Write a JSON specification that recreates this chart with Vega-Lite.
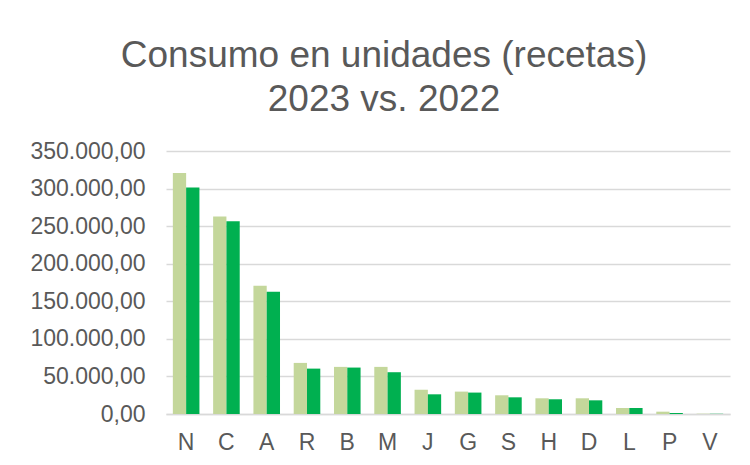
{
  "$schema": "https://vega.github.io/schema/vega-lite/v6.json",
  "autosize": {"type": "none"},
  "padding": {"left": 166, "top": 151, "right": 20, "bottom": 51},
  "width": 564,
  "height": 263,
  "background": "white",
  "config": {
    "locale": {"number": {"decimal": ",", "thousands": ".", "grouping": [3], "currency": ["", " €"]}},
    "view": {"stroke": null},
    "font": "Liberation Sans"
  },
  "title": {
    "text": ["Consumo en unidades (recetas)", "2023 vs. 2022"],
    "font": "Liberation Sans",
    "fontSize": 37,
    "fontWeight": "normal",
    "color": "#595959",
    "anchor": "middle",
    "dx": -64,
    "lineHeight": 44,
    "baseline": "bottom",
    "offset": -16
  },
  "data": {
    "values": [
      {"cat": "N", "serie": "2022", "valor": 320600},
      {"cat": "N", "serie": "2023", "valor": 301500},
      {"cat": "C", "serie": "2022", "valor": 262800},
      {"cat": "C", "serie": "2023", "valor": 256500},
      {"cat": "A", "serie": "2022", "valor": 170800},
      {"cat": "A", "serie": "2023", "valor": 162700},
      {"cat": "R", "serie": "2022", "valor": 68000},
      {"cat": "R", "serie": "2023", "valor": 60400},
      {"cat": "B", "serie": "2022", "valor": 62700},
      {"cat": "B", "serie": "2023", "valor": 61800},
      {"cat": "M", "serie": "2022", "valor": 62700},
      {"cat": "M", "serie": "2023", "valor": 55600},
      {"cat": "J", "serie": "2022", "valor": 32400},
      {"cat": "J", "serie": "2023", "valor": 26200},
      {"cat": "G", "serie": "2022", "valor": 29800},
      {"cat": "G", "serie": "2023", "valor": 28500},
      {"cat": "S", "serie": "2022", "valor": 24900},
      {"cat": "S", "serie": "2023", "valor": 22200},
      {"cat": "H", "serie": "2022", "valor": 20900},
      {"cat": "H", "serie": "2023", "valor": 19600},
      {"cat": "D", "serie": "2022", "valor": 20900},
      {"cat": "D", "serie": "2023", "valor": 18200},
      {"cat": "L", "serie": "2022", "valor": 8000},
      {"cat": "L", "serie": "2023", "valor": 8000},
      {"cat": "P", "serie": "2022", "valor": 3100},
      {"cat": "P", "serie": "2023", "valor": 1300},
      {"cat": "V", "serie": "2022", "valor": 400},
      {"cat": "V", "serie": "2023", "valor": 300}
    ]
  },
  "mark": {"type": "bar"},
  "encoding": {
    "x": {
      "field": "cat",
      "type": "nominal",
      "sort": null,
      "scale": {"paddingInner": 0.34, "paddingOuter": 0.17},
      "axis": {
        "title": null,
        "labelAngle": 0,
        "labelFont": "Liberation Sans",
        "labelFontSize": 23,
        "labelColor": "#595959",
        "labelPadding": 17,
        "ticks": false,
        "domainColor": "#d9d9d9",
        "domainWidth": 1.5
      }
    },
    "xOffset": {"field": "serie", "type": "nominal", "sort": ["2022", "2023"]},
    "y": {
      "field": "valor",
      "type": "quantitative",
      "scale": {"domain": [0, 350000], "nice": false},
      "axis": {
        "title": null,
        "values": [0, 50000, 100000, 150000, 200000, 250000, 300000, 350000],
        "format": ",.2f",
        "labelFont": "Liberation Sans",
        "labelFontSize": 23,
        "labelColor": "#595959",
        "labelPadding": 21,
        "ticks": false,
        "domain": false,
        "gridColor": "#d9d9d9",
        "gridWidth": 1.5
      }
    },
    "color": {
      "field": "serie",
      "type": "nominal",
      "scale": {"domain": ["2022", "2023"], "range": ["#c4d79b", "#00b050"]},
      "legend": null
    }
  }
}
